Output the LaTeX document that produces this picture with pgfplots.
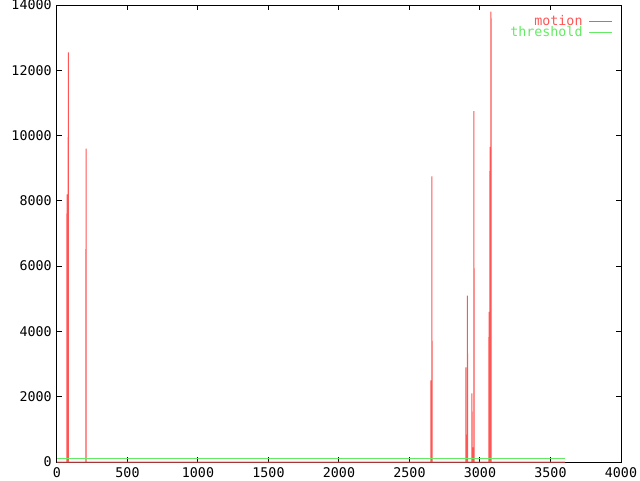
\documentclass[border=0pt]{standalone}
\usepackage{fontspec}
\setmainfont{DejaVu Sans Mono}
\usepackage{pgfplots}
\pgfplotsset{compat=1.18}
\definecolor{gpred}{RGB}{255,85,85}
\definecolor{gpgreen}{RGB}{100,235,100}
\begin{document}
\begin{tikzpicture}
\useasboundingbox (-42.75pt,-13.5pt) rectangle (437.25pt,346.5pt);
\begin{axis}[
  at={(0,0)}, anchor=south west,
  scale only axis,
  width=423pt, height=342.75pt,
  xmin=0, xmax=4000, ymin=0, ymax=14000,
  xtick={0,500,...,4000}, ytick={0,2000,...,14000},
  scaled y ticks=false, scaled x ticks=false,
  tick align=inside, major tick length=3.75pt,
  xtick pos=both, ytick pos=both,
  axis line style={line width=0.75pt},
  tick style={line width=0.75pt, black},
  /pgf/number format/assume math mode=true,
  /pgf/number format/1000 sep={},
  tick label style={font=\fontsize{10}{12}\selectfont},
  xticklabel style={yshift=-1pt},
  yticklabel style={xshift=-0.5pt},
  legend style={draw=none, fill=none, at={(0.992,0.99)}, anchor=north east,
    font=\fontsize{10}{11}\selectfont, row sep=-4.5pt,
    nodes={inner xsep=4.5pt}},
  legend cell align=right,
  legend plot pos=right,
  legend image code/.code={\draw[#1] (0pt,0pt) -- (17pt,0pt);},
]
\addplot[gpred, line width=0.75pt] coordinates {
(0,0) (70,0) (71,8200) (72,0) (79,0) (80,12550) (81,0)
(205,0) (206,9600) (207,0)
(2651,0) (2652,2500) (2653,0) (2658,0) (2659,8750) (2660,0)
(2899,0) (2900,2900) (2901,0) (2910,0) (2911,5100) (2912,0)
(2942,0) (2943,2100) (2944,0) (2949,0) (2950,450) (2951,0) (2956,0) (2957,10750) (2958,0)
(3063,0) (3064,4600) (3065,0) (3070,0) (3071,9650) (3072,0) (3077,0) (3078,13800) (3079,0)
(3603,0)
};
\addlegendentry{\textcolor{gpred}{motion}}
\addplot[gpgreen, line width=0.75pt] coordinates {(0,100) (3603,100)};
\addlegendentry{\textcolor{gpgreen}{threshold}}
\end{axis}
\end{tikzpicture}
\end{document}
